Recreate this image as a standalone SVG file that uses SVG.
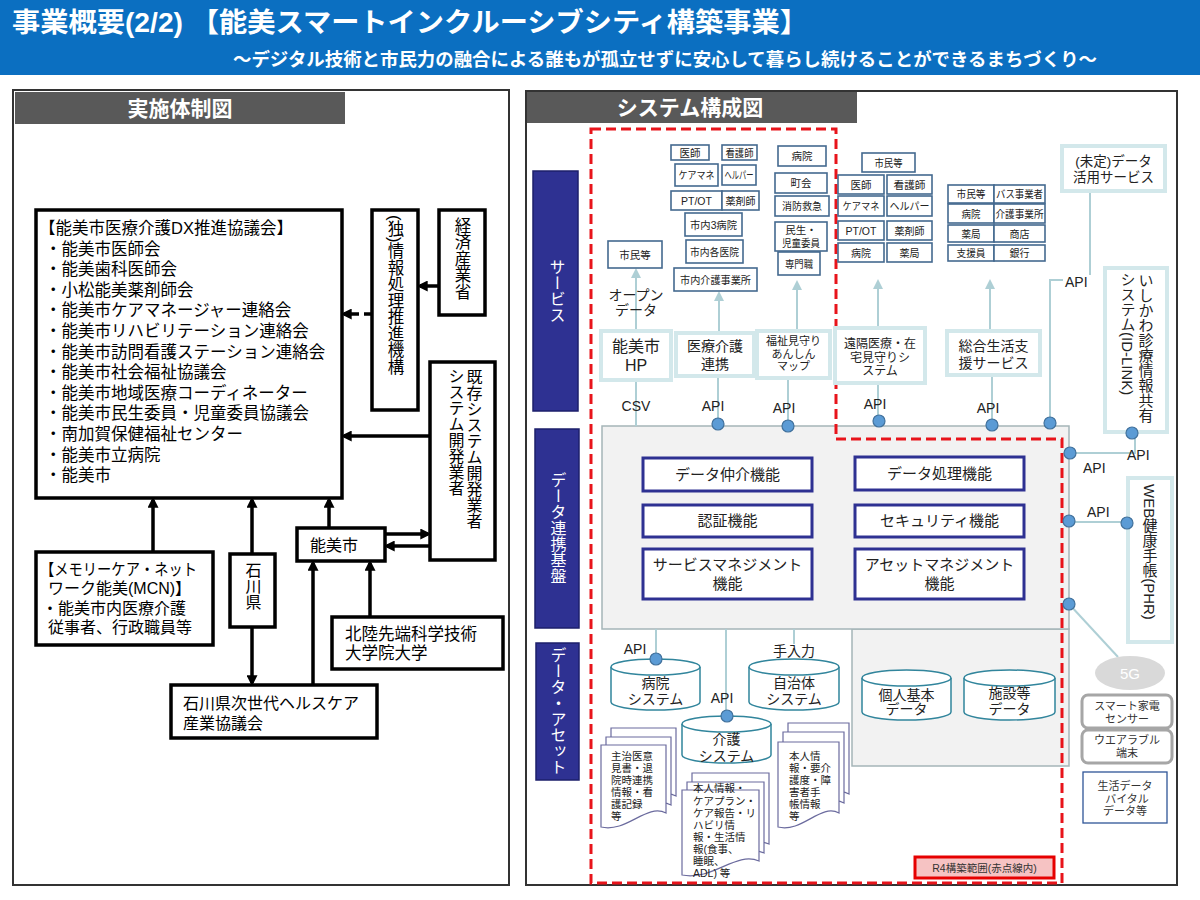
<svg xmlns="http://www.w3.org/2000/svg" width="1200" height="900" viewBox="0 0 1200 900">
<style>
text{font-family:"Liberation Sans","Noto Sans CJK JP",sans-serif;}
.bk{fill:#fff;stroke:#000;stroke-width:3.5}
.t17{font-size:16.5px;fill:#000}
.t16{font-size:16px;fill:#000}
.vt{writing-mode:vertical-rl}
.sb{fill:#fff;stroke:#44698F;stroke-width:1.6}
.st{font-size:10.5px;fill:#222;text-anchor:middle}
.sv{fill:#fff;stroke:#D3E8EB;stroke-width:4}
.svt{fill:#222;text-anchor:middle}
.fn{fill:#fff;stroke:#2E3192;stroke-width:3}
.fnt{font-size:15px;fill:#222;text-anchor:middle}
.cat{fill:#2E3192;stroke:#1D1F6B;stroke-width:1.5}
.catt{fill:#fff;font-size:16px;text-anchor:middle;writing-mode:vertical-rl}
.cyl{fill:#fff;stroke:#31859C;stroke-width:1.5}
.cytx{font-size:14px;fill:#222;text-anchor:middle}
.doc{fill:#fff;stroke:#6B6B9E;stroke-width:1.2}
.dt{font-size:10.5px;fill:#222}
.ln{stroke:#AECFD5;stroke-width:2;fill:none}
.dot{fill:#5B9BD5;stroke:#41719C;stroke-width:1.2}
.lb{font-size:14px;fill:#222;text-anchor:middle}
.blk{stroke:#000;stroke-width:3.5;fill:none}
.gr{fill:#fff;stroke:#A6A6A6;stroke-width:3}
.gt{font-size:11px;fill:#333;text-anchor:middle}
</style>
<defs>
<marker id="ab" viewBox="0 0 10 10" refX="7" refY="5" markerWidth="11" markerHeight="11" markerUnits="userSpaceOnUse" orient="auto"><path d="M0,0 L10,5 L0,10 z" fill="#000"/></marker>
<marker id="al" viewBox="0 0 10 10" refX="8" refY="5" markerWidth="10" markerHeight="10" markerUnits="userSpaceOnUse" orient="auto"><path d="M0,0 L10,5 L0,10 z" fill="#AECFD5"/></marker>
</defs>
<rect x="0" y="0" width="1200" height="900" fill="#fff"/>

<g id="header">
<rect x="0" y="0" width="1200" height="75" fill="#0B6FC1"/>
<text x="12" y="32" font-size="27" font-weight="bold" fill="#fff" textLength="796" lengthAdjust="spacingAndGlyphs">事業概要(2/2) 【能美スマートインクルーシブシティ構築事業】</text>
<text x="233" y="66" font-size="18" font-weight="bold" fill="#fff" textLength="864" lengthAdjust="spacingAndGlyphs">～デジタル技術と市民力の融合による誰もが孤立せずに安心して暮らし続けることができるまちづくり～</text>
</g>

<!-- LEFT PANEL -->
<g id="left-panel">
<rect x="13" y="90" width="496" height="795" fill="#fff" stroke="#333" stroke-width="2"/>
<rect x="15" y="92" width="330" height="32" fill="#595959"/>
<text x="180" y="116" font-size="21" font-weight="bold" fill="#fff" text-anchor="middle">実施体制図</text>
</g>

<g id="left-connectors">
<line class="blk" x1="439" y1="286" x2="420" y2="286" marker-end="url(#ab)"/>
<line class="blk" x1="372" y1="314" x2="344" y2="314" stroke-dasharray="8 5" marker-end="url(#ab)"/>
<line class="blk" x1="430" y1="436" x2="344" y2="436" marker-end="url(#ab)"/>
<line class="blk" x1="153" y1="552" x2="153" y2="500" marker-end="url(#ab)"/>
<line class="blk" x1="252" y1="554" x2="252" y2="500" marker-end="url(#ab)"/>
<line class="blk" x1="252" y1="627" x2="252" y2="683" marker-end="url(#ab)"/>
<line class="blk" x1="329" y1="528" x2="329" y2="500" marker-end="url(#ab)"/>
<line class="blk" x1="385" y1="534" x2="428" y2="534" marker-end="url(#ab)"/>
<line class="blk" x1="430" y1="546" x2="387" y2="546" marker-end="url(#ab)"/>
<line class="blk" x1="313" y1="685" x2="313" y2="563" marker-end="url(#ab)"/>
<line class="blk" x1="370" y1="617" x2="370" y2="563" marker-end="url(#ab)"/>
</g>

<g id="n-kyogikai">
<rect class="bk" x="36" y="210" width="306" height="288"/>
<text class="t17" x="39" y="234">【能美市医療介護DX推進協議会】</text>
<text class="t17" x="45" y="254.6">・能美市医師会</text>
<text class="t17" x="45" y="275.2">・能美歯科医師会</text>
<text class="t17" x="45" y="295.8">・小松能美薬剤師会</text>
<text class="t17" x="45" y="316.4">・能美市ケアマネージャー連絡会</text>
<text class="t17" x="45" y="337">・能美市リハビリテーション連絡会</text>
<text class="t17" x="45" y="357.6">・能美市訪問看護ステーション連絡会</text>
<text class="t17" x="45" y="378.2">・能美市社会福祉協議会</text>
<text class="t17" x="45" y="398.8">・能美市地域医療コーディネーター</text>
<text class="t17" x="45" y="419.4">・能美市民生委員・児童委員協議会</text>
<text class="t17" x="45" y="440">・南加賀保健福祉センター</text>
<text class="t17" x="45" y="460.6">・能美市立病院</text>
<text class="t17" x="45" y="481.2">・能美市</text>
</g>
<g id="n-ipa">
<rect class="bk" x="372" y="210" width="46" height="200"/>
<text class="t17 vt" x="395" y="215">(独)情報処理推進機構</text>
</g>
<g id="n-meti">
<rect class="bk" x="439" y="210" width="46" height="105"/>
<text class="t17 vt" x="462" y="217">経済産業省</text>
</g>
<g id="n-kizon">
<rect class="bk" x="430" y="362" width="65" height="198"/>
<text class="t16 vt" x="473" y="369">既存システム開発業者</text>
<text class="t16 vt" x="455" y="368">システム開発業者</text>
</g>
<g id="n-mcn">
<rect class="bk" x="36" y="552" width="177" height="93"/>
<text class="t16" x="40" y="575" textLength="157" lengthAdjust="spacingAndGlyphs">【メモリーケア・ネット</text>
<text class="t16" x="48" y="594">ワーク能美(MCN)】</text>
<text class="t16" x="42" y="614">・能美市内医療介護</text>
<text class="t16" x="48" y="633">従事者、行政職員等</text>
</g>
<g id="n-ishikawa">
<rect class="bk" x="230" y="554" width="45" height="73"/>
<text class="t16 vt" x="252" y="562">石川県</text>
</g>
<g id="n-nomi">
<rect class="bk" x="297" y="528" width="88" height="33"/>
<text class="t16" x="310" y="551">能美市</text>
</g>
<g id="n-jaist">
<rect class="bk" x="332" y="617" width="171" height="52"/>
<text class="t17" x="345" y="640">北陸先端科学技術</text>
<text class="t17" x="345" y="659">大学院大学</text>
</g>
<g id="n-health">
<rect class="bk" x="171" y="685" width="206" height="53"/>
<text class="t16" x="183" y="709">石川県次世代ヘルスケア</text>
<text class="t16" x="183" y="729">産業協議会</text>
</g>

<!-- RIGHT PANEL -->
<g id="right-panel">
<rect x="526" y="91" width="651" height="794" fill="#fff" stroke="#333" stroke-width="2"/>
<rect x="527" y="92" width="330" height="31" fill="#595959"/>
<text x="690" y="115" font-size="21" font-weight="bold" fill="#fff" text-anchor="middle">システム構成図</text>
</g>

<g id="cat-service"><rect class="cat" x="533" y="171" width="45" height="240"/><text class="catt" x="556" y="291">サービス</text></g>
<g id="cat-platform"><rect class="cat" x="535" y="429" width="44" height="199"/><text class="catt" x="557" y="528">データ連携基盤</text></g>
<g id="cat-asset"><rect class="cat" x="536" y="643" width="43" height="137"/><text class="catt" x="557" y="711" font-size="15">データ・アセット</text></g>

<g id="platform">
<rect x="852" y="629" width="217" height="137" fill="#F2F2F2" stroke="#A5B5B8" stroke-width="1.5"/>
<rect x="602" y="426" width="467" height="203" fill="#F2F2F2" stroke="#A5B5B8" stroke-width="1.5"/>
</g>

<g id="connectors">
<!-- service arrows -->
<line class="ln" x1="636" y1="331" x2="636" y2="270" marker-end="url(#al)"/>
<line class="ln" x1="719" y1="333" x2="719" y2="293" marker-end="url(#al)"/>
<line class="ln" x1="797" y1="331" x2="797" y2="282" marker-end="url(#al)"/>
<line class="ln" x1="878" y1="328" x2="878" y2="281" marker-end="url(#al)"/>
<line class="ln" x1="990" y1="331" x2="990" y2="281" marker-end="url(#al)"/>
<!-- service to platform -->
<line class="ln" x1="636" y1="380" x2="636" y2="426"/>
<line class="ln" x1="718" y1="376" x2="718" y2="424"/>
<line class="ln" x1="788" y1="378" x2="788" y2="426"/>
<line class="ln" x1="878" y1="383" x2="878" y2="421"/>
<line class="ln" x1="992" y1="375" x2="992" y2="425"/>
<polyline class="ln" points="1090,191 1090,275"/>
<polyline class="ln" points="1063,280 1050,280 1050,423"/>
<polyline class="ln" points="1135,433 1135,453 1070,453"/>
<line class="ln" x1="1069" y1="522" x2="1127" y2="522"/>
<line class="ln" x1="1069" y1="604" x2="1118" y2="657" stroke-width="1.2"/>
<!-- platform to assets -->
<line class="ln" x1="656" y1="629" x2="656" y2="659"/>
<line class="ln" x1="726" y1="629" x2="726" y2="716"/>
<line class="ln" x1="794" y1="629" x2="794" y2="644"/>
</g>

<g id="red-scope">
<polygon points="591,129 836,129 836,439 1062,439 1062,883 591,883" fill="none" stroke="#E8141B" stroke-width="3" stroke-dasharray="10 5"/>
</g>

<!-- functions -->
<g id="f-chukai"><rect class="fn" x="643" y="458" width="169" height="33"/><text class="fnt" x="727.5" y="480">データ仲介機能</text></g>
<g id="f-shori"><rect class="fn" x="855" y="457" width="169" height="33"/><text class="fnt" x="939.5" y="479">データ処理機能</text></g>
<g id="f-ninsho"><rect class="fn" x="643" y="505" width="169" height="32"/><text class="fnt" x="727.5" y="526">認証機能</text></g>
<g id="f-security"><rect class="fn" x="855" y="505" width="169" height="32"/><text class="fnt" x="939.5" y="526">セキュリティ機能</text></g>
<g id="f-service"><rect class="fn" x="643" y="549" width="169" height="50"/><text class="fnt" x="727.5" y="570">サービスマネジメント</text><text class="fnt" x="727.5" y="589">機能</text></g>
<g id="f-asset"><rect class="fn" x="855" y="549" width="169" height="50"/><text class="fnt" x="939.5" y="570">アセットマネジメント</text><text class="fnt" x="939.5" y="589">機能</text></g>

<!-- services -->
<g id="s-hp"><rect class="sv" x="601" y="331" width="70" height="49"/><text class="svt" x="636" y="352" font-size="16">能美市</text><text class="svt" x="636" y="371" font-size="16">HP</text></g>
<g id="s-iryo"><rect class="sv" x="676" y="333" width="78" height="43"/><text class="svt" x="715" y="351" font-size="14">医療介護</text><text class="svt" x="715" y="369" font-size="14">連携</text></g>
<g id="s-fukushi"><rect class="sv" x="757" y="331" width="73" height="47"/><text class="svt" x="793.5" y="345" font-size="11">福祉見守り</text><text class="svt" x="793.5" y="358" font-size="11">あんしん</text><text class="svt" x="793.5" y="370" font-size="11">マップ</text></g>
<g id="s-enkaku"><rect class="sv" x="835" y="328" width="90" height="55"/><text class="svt" x="880" y="348" font-size="12">遠隔医療・在</text><text class="svt" x="880" y="362" font-size="12">宅見守りシ</text><text class="svt" x="880" y="375" font-size="12">ステム</text></g>
<g id="s-sogo"><rect class="sv" x="947" y="331" width="93" height="44"/><text class="svt" x="993.5" y="351" font-size="14">総合生活支</text><text class="svt" x="993.5" y="368" font-size="14">援サービス</text></g>
<g id="s-mitei"><rect class="sv" x="1062" y="146" width="103" height="45"/><text class="svt" x="1113.5" y="166" font-size="13.5">(未定)データ</text><text class="svt" x="1113.5" y="182" font-size="13.5">活用サービス</text></g>
<g id="s-idlink"><rect class="sv" x="1105" y="268" width="62" height="164"/><text class="vt" x="1145" y="273" font-size="15" fill="#222">いしかわ診療情報共有</text><text class="vt" x="1127" y="272" font-size="15" fill="#222">システム(ID-LINK)</text></g>
<g id="s-web"><rect class="sv" x="1128" y="478" width="44" height="164"/><text class="vt" x="1149" y="484" font-size="15" fill="#222">WEB健康手帳(PHR)</text></g>

<!-- small boxes group 1 -->
<g id="u-ishi1"><rect class="sb" x="671" y="145" width="38" height="15"/><text class="st" x="690" y="156.5">医師</text></g>
<g id="u-kango1"><rect class="sb" x="722" y="145" width="35" height="15"/><text class="st" x="739.5" y="156.5" textLength="28" lengthAdjust="spacingAndGlyphs">看護師</text></g>
<g id="u-caremane1"><rect class="sb" x="675" y="164" width="43" height="22"/><text class="st" x="696.5" y="179" textLength="36" lengthAdjust="spacingAndGlyphs">ケアマネ</text></g>
<g id="u-helper1"><rect class="sb" x="722" y="165" width="34" height="20"/><text class="st" x="739" y="179" textLength="29" lengthAdjust="spacingAndGlyphs">ヘルパー</text></g>
<g id="u-ptot1"><rect class="sb" x="671" y="191" width="51" height="19"/><text class="st" x="696.5" y="205" font-size="12">PT/OT</text></g>
<g id="u-yaku1"><rect class="sb" x="722" y="191" width="37" height="19"/><text class="st" x="740.5" y="204.5" textLength="30" lengthAdjust="spacingAndGlyphs">薬剤師</text></g>
<g id="u-3byoin"><rect class="sb" x="685" y="213" width="57" height="23"/><text class="st" x="713.5" y="228.5" textLength="47" lengthAdjust="spacingAndGlyphs">市内3病院</text></g>
<g id="u-kakuiin"><rect class="sb" x="686" y="240" width="57" height="23"/><text class="st" x="714.5" y="255.5" textLength="49" lengthAdjust="spacingAndGlyphs">市内各医院</text></g>
<g id="u-kaigo"><rect class="sb" x="674" y="268" width="83" height="23"/><text class="st" x="715.5" y="283.5" textLength="71" lengthAdjust="spacingAndGlyphs">市内介護事業所</text></g>
<g id="u-shimin1"><rect class="sb" x="608" y="241" width="54" height="27"/><text class="st" x="635" y="258.5">市民等</text></g>
<!-- group 2 -->
<g id="u-byoin2"><rect class="sb" x="778" y="146" width="48" height="20"/><text class="st" x="802" y="160">病院</text></g>
<g id="u-chokai"><rect class="sb" x="775" y="173" width="52" height="20"/><text class="st" x="801" y="187">町会</text></g>
<g id="u-shobo"><rect class="sb" x="775" y="196" width="54" height="20"/><text class="st" x="802" y="210" textLength="40" lengthAdjust="spacingAndGlyphs">消防救急</text></g>
<g id="u-minsei"><rect class="sb" x="775" y="222" width="52" height="29"/><text class="st" x="801" y="234">民生・</text><text class="st" x="801" y="247" textLength="38" lengthAdjust="spacingAndGlyphs">児童委員</text></g>
<g id="u-senmon"><rect class="sb" x="778" y="252" width="42" height="23"/><text class="st" x="799" y="267.5" textLength="28" lengthAdjust="spacingAndGlyphs">専門職</text></g>
<!-- group 3 -->
<g id="u-shimin3"><rect class="sb" x="862" y="153" width="53" height="19"/><text class="st" x="888.5" y="166.5" textLength="28" lengthAdjust="spacingAndGlyphs">市民等</text></g>
<g id="u-ishi3"><rect class="sb" x="838" y="175" width="46" height="19"/><text class="st" x="861" y="188.5">医師</text></g>
<g id="u-kango3"><rect class="sb" x="887" y="175" width="45" height="19"/><text class="st" x="909.5" y="188.5" textLength="32" lengthAdjust="spacingAndGlyphs">看護師</text></g>
<g id="u-caremane3"><rect class="sb" x="838" y="196" width="46" height="20"/><text class="st" x="861" y="210" textLength="37" lengthAdjust="spacingAndGlyphs">ケアマネ</text></g>
<g id="u-helper3"><rect class="sb" x="887" y="196" width="45" height="20"/><text class="st" x="909.5" y="210" textLength="40" lengthAdjust="spacingAndGlyphs">ヘルパー</text></g>
<g id="u-ptot3"><rect class="sb" x="838" y="221" width="46" height="19"/><text class="st" x="861" y="235" font-size="12">PT/OT</text></g>
<g id="u-yaku3"><rect class="sb" x="887" y="221" width="45" height="19"/><text class="st" x="909.5" y="234.5" textLength="30" lengthAdjust="spacingAndGlyphs">薬剤師</text></g>
<g id="u-byoin3"><rect class="sb" x="838" y="243" width="46" height="19"/><text class="st" x="861" y="256.5" textLength="20" lengthAdjust="spacingAndGlyphs">病院</text></g>
<g id="u-yakkyoku3"><rect class="sb" x="887" y="243" width="45" height="19"/><text class="st" x="909.5" y="256.5" textLength="20" lengthAdjust="spacingAndGlyphs">薬局</text></g>
<!-- group 4 -->
<g id="u-shimin4"><rect class="sb" x="948" y="185" width="46" height="18"/><text class="st" x="971" y="198" textLength="29" lengthAdjust="spacingAndGlyphs">市民等</text></g>
<g id="u-bus"><rect class="sb" x="994" y="185" width="51" height="18"/><text class="st" x="1019.5" y="198" textLength="47" lengthAdjust="spacingAndGlyphs">バス事業者</text></g>
<g id="u-byoin4"><rect class="sb" x="948" y="204" width="46" height="19"/><text class="st" x="971" y="217.5" textLength="19" lengthAdjust="spacingAndGlyphs">病院</text></g>
<g id="u-kaigo4"><rect class="sb" x="994" y="204" width="51" height="19"/><text class="st" x="1019.5" y="217.5" textLength="48" lengthAdjust="spacingAndGlyphs">介護事業所</text></g>
<g id="u-yakkyoku4"><rect class="sb" x="948" y="225" width="46" height="17"/><text class="st" x="971" y="237.5" textLength="19" lengthAdjust="spacingAndGlyphs">薬局</text></g>
<g id="u-shoten"><rect class="sb" x="994" y="225" width="51" height="17"/><text class="st" x="1019.5" y="237.5" textLength="20" lengthAdjust="spacingAndGlyphs">商店</text></g>
<g id="u-shien"><rect class="sb" x="948" y="245" width="46" height="16"/><text class="st" x="971" y="257" textLength="29" lengthAdjust="spacingAndGlyphs">支援員</text></g>
<g id="u-ginko"><rect class="sb" x="994" y="245" width="51" height="16"/><text class="st" x="1019.5" y="257" textLength="20" lengthAdjust="spacingAndGlyphs">銀行</text></g>

<!-- labels -->
<g id="labels">
<text class="lb" x="636" y="300">オープン</text>
<text class="lb" x="636" y="315">データ</text>
<text class="lb" x="636" y="411">CSV</text>
<text class="lb" x="713" y="411">API</text>
<text class="lb" x="784" y="413">API</text>
<text class="lb" x="875" y="409">API</text>
<text class="lb" x="988" y="413">API</text>
<text x="1065" y="287" font-size="14" fill="#222">API</text>
<text x="1127" y="460" font-size="14" fill="#222">API</text>
<text x="1083" y="473" font-size="14" fill="#222">API</text>
<text x="1087" y="517" font-size="14" fill="#222">API</text>
<text class="lb" x="635" y="654">API</text>
<text class="lb" x="794" y="656">手入力</text>
<text class="lb" x="722" y="703">API</text>
</g>

<!-- assets -->
<g id="a-byoin"><path class="cyl" d="M611,667 V702 A44.5,8 0 0 0 700,702 V667"/><ellipse class="cyl" cx="655.5" cy="667" rx="44.5" ry="8"/><text class="cytx" x="655.5" y="688">病院</text><text class="cytx" x="655.5" y="704">システム</text></g>
<g id="a-jichitai"><path class="cyl" d="M749,667 V702 A45,8 0 0 0 839,702 V667"/><ellipse class="cyl" cx="794" cy="667" rx="45" ry="8"/><text class="cytx" x="794" y="688">自治体</text><text class="cytx" x="794" y="704">システム</text></g>
<g id="a-kaigo"><path class="cyl" d="M682,724 V755 A44.5,8 0 0 0 771,755 V724"/><ellipse class="cyl" cx="726.5" cy="724" rx="44.5" ry="8"/><text class="cytx" x="726.5" y="744">介護</text><text class="cytx" x="726.5" y="761">システム</text></g>
<g id="a-kojin"><path class="cyl" d="M862,678 V712 A44.5,8 0 0 0 951,712 V678"/><ellipse class="cyl" cx="906.5" cy="678" rx="44.5" ry="8"/><text class="cytx" x="906.5" y="700">個人基本</text><text class="cytx" x="906.5" y="714">データ</text></g>
<g id="a-shisetsu"><path class="cyl" d="M964,678 V712 A45.5,8 0 0 0 1055,712 V678"/><ellipse class="cyl" cx="1009.5" cy="678" rx="45.5" ry="8"/><text class="cytx" x="1009.5" y="698">施設等</text><text class="cytx" x="1009.5" y="714">データ</text></g>

<g id="d-byoin">
<path class="doc" d="M611,728 H676 V796 C656.5,786 637,816 611,810 Z"/>
<path class="doc" d="M606,737 H671 V805 C651.5,795 632,825 606,819 Z"/>
<path class="doc" d="M601,745 H666 V813 C646.5,803 627,833 601,827 Z"/>
<text class="dt" x="611" y="760">主治医意</text>
<text class="dt" x="611" y="772">見書・退</text>
<text class="dt" x="611" y="784">院時連携</text>
<text class="dt" x="611" y="796">情報・看</text>
<text class="dt" x="611" y="808">護記録</text>
<text class="dt" x="611" y="820">等</text>
</g>
<g id="d-kaigo">
<path class="doc" d="M692,773 H769 V844 C745.9,834 722.8,864 692,858 Z"/>
<path class="doc" d="M687,782 H764 V853 C740.9,843 717.8,873 687,867 Z"/>
<path class="doc" d="M682,790 H759 V861 C735.9,851 712.8,881 682,875 Z"/>
<text class="dt" x="693" y="792">本人情報・</text>
<text class="dt" x="693" y="805">ケアプラン・</text>
<text class="dt" x="693" y="817">ケア報告・リ</text>
<text class="dt" x="693" y="829">ハビリ情</text>
<text class="dt" x="693" y="841">報・生活情</text>
<text class="dt" x="693" y="853">報(食事、</text>
<text class="dt" x="693" y="865">睡眠、</text>
<text class="dt" x="693" y="877">ADL) 等</text>
</g>
<g id="d-jichitai">
<path class="doc" d="M788,723 H849 V794 C830.7,784 812.4,814 788,808 Z"/>
<path class="doc" d="M783,732 H844 V803 C825.7,793 807.4,823 783,817 Z"/>
<path class="doc" d="M778,742 H839 V813 C820.7,803 802.4,833 778,827 Z"/>
<text class="dt" x="789" y="760">本人情</text>
<text class="dt" x="789" y="772">報・要介</text>
<text class="dt" x="789" y="784">護度・障</text>
<text class="dt" x="789" y="796">害者手</text>
<text class="dt" x="789" y="808">帳情報</text>
<text class="dt" x="789" y="820">等</text>
</g>

<!-- devices -->
<g id="n-5g"><ellipse cx="1130" cy="673" rx="35" ry="17" fill="#D9D9D9"/><text x="1130" y="679" font-size="15" fill="#fff" text-anchor="middle">5G</text></g>
<g id="n-kaden"><rect class="gr" x="1082" y="695" width="90" height="33" rx="6"/><text class="gt" x="1127" y="710">スマート家電</text><text class="gt" x="1127" y="723">センサー</text></g>
<g id="n-wearable"><rect class="gr" x="1082" y="730" width="90" height="33" rx="6"/><text class="gt" x="1127" y="744">ウエアラブル</text><text class="gt" x="1127" y="757">端末</text></g>
<g id="n-seikatsu"><rect x="1083" y="772" width="84" height="51" fill="#fff" stroke="#2F5597" stroke-width="1.3"/><text class="gt" x="1125" y="790">生活データ</text><text class="gt" x="1127" y="803">バイタル</text><text class="gt" x="1125" y="815">データ等</text></g>

<g id="n-r4"><rect x="915" y="857" width="139" height="21" fill="#F6C3C3" stroke="#E60000" stroke-width="3"/><text x="984.5" y="871.5" font-size="10.5" fill="#333" text-anchor="middle">R4構築範囲(赤点線内)</text></g>

<!-- connection dots -->
<g id="dots">
<circle class="dot" cx="718" cy="424" r="6"/>
<circle class="dot" cx="788" cy="426" r="6"/>
<circle class="dot" cx="879" cy="421" r="6"/>
<circle class="dot" cx="992" cy="425" r="6"/>
<circle class="dot" cx="1050" cy="423" r="6"/>
<circle class="dot" cx="1132" cy="433" r="6"/>
<circle class="dot" cx="1070" cy="453" r="6"/>
<circle class="dot" cx="1069" cy="521" r="6"/>
<circle class="dot" cx="1127" cy="523" r="6"/>
<circle class="dot" cx="1069" cy="604" r="6"/>
<circle class="dot" cx="656" cy="659" r="6"/>
<circle class="dot" cx="727" cy="716" r="6"/>
</g>
</svg>
